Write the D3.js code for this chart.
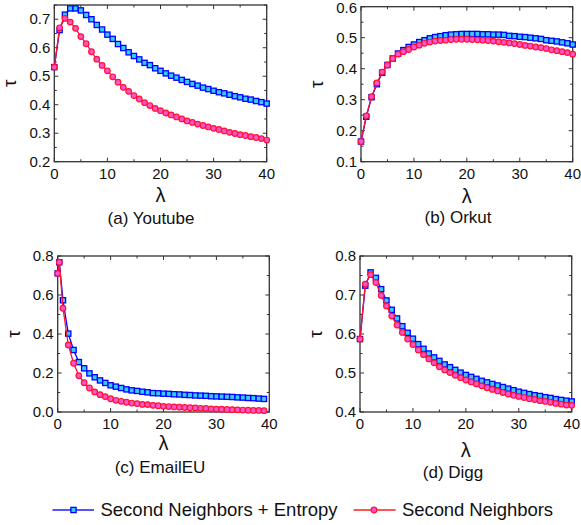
<!DOCTYPE html>
<html><head><meta charset="utf-8">
<script src="https://cdn.jsdelivr.net/npm/d3@7"></script>
<style>
body{margin:0;background:#fff;}
svg text{font-family:"Liberation Sans",Arial,sans-serif;fill:#111;}
</style></head>
<body><svg id="c" width="581" height="525"></svg>
<script>
// λ values (integers 0..40)
const lambdaInt = [0,1,2,3,4,5,6,7,8,9,10,11,12,13,14,15,16,17,18,19,20,21,22,23,24,25,26,27,28,29,30,31,32,33,34,35,36,37,38,39,40];
// EmailEU has an extra early sample
const lambdaEmail = [0,0.3,1,2,3,4,5,6,7,8,9,10,11,12,13,14,15,16,17,18,19,20,21,22,23,24,25,26,27,28,29,30,31,32,33,34,35,36,37,38,39,40];

const youtubeEntropy = [0.532,0.662,0.716,0.738,0.738,0.731,0.715,0.700,0.680,0.664,0.646,0.631,0.613,0.599,0.584,0.571,0.559,0.547,0.539,0.528,0.519,0.510,0.502,0.495,0.487,0.480,0.473,0.467,0.460,0.455,0.449,0.444,0.440,0.435,0.430,0.426,0.421,0.418,0.413,0.409,0.404];
const youtubeSecond = [0.532,0.670,0.703,0.690,0.668,0.639,0.614,0.586,0.560,0.538,0.519,0.498,0.479,0.461,0.447,0.432,0.420,0.407,0.397,0.387,0.379,0.371,0.364,0.357,0.350,0.343,0.338,0.332,0.327,0.322,0.317,0.313,0.308,0.303,0.299,0.295,0.292,0.288,0.285,0.281,0.276];

const orkutEntropy = [0.165,0.245,0.308,0.350,0.387,0.412,0.433,0.449,0.460,0.470,0.478,0.486,0.492,0.498,0.502,0.505,0.508,0.510,0.511,0.512,0.512,0.512,0.512,0.511,0.511,0.510,0.510,0.509,0.506,0.505,0.503,0.502,0.500,0.498,0.496,0.492,0.490,0.488,0.485,0.482,0.478];
const orkutSecond = [0.165,0.248,0.310,0.354,0.389,0.412,0.433,0.447,0.455,0.462,0.470,0.476,0.482,0.486,0.489,0.491,0.492,0.494,0.495,0.495,0.495,0.494,0.493,0.492,0.491,0.489,0.487,0.485,0.483,0.481,0.478,0.475,0.473,0.470,0.468,0.465,0.461,0.458,0.455,0.452,0.447];

const emailEntropy = [0.711,0.768,0.573,0.402,0.318,0.256,0.224,0.198,0.178,0.162,0.149,0.137,0.130,0.123,0.116,0.111,0.108,0.104,0.101,0.097,0.096,0.094,0.093,0.091,0.090,0.088,0.087,0.085,0.084,0.083,0.081,0.080,0.079,0.078,0.077,0.075,0.074,0.072,0.071,0.069,0.067];
const emailSecond = [0.711,0.768,0.532,0.344,0.250,0.186,0.150,0.123,0.103,0.089,0.079,0.068,0.060,0.055,0.050,0.046,0.043,0.039,0.038,0.034,0.032,0.029,0.028,0.026,0.025,0.023,0.022,0.021,0.019,0.018,0.016,0.015,0.014,0.013,0.012,0.011,0.010,0.009,0.008,0.008,0.007];

const diggEntropy = [0.587,0.724,0.758,0.744,0.715,0.686,0.662,0.640,0.620,0.603,0.588,0.574,0.562,0.550,0.540,0.531,0.522,0.515,0.508,0.501,0.495,0.490,0.485,0.480,0.476,0.472,0.468,0.464,0.460,0.456,0.452,0.449,0.446,0.443,0.441,0.438,0.436,0.433,0.431,0.429,0.427];
const diggSecond = [0.587,0.728,0.752,0.732,0.699,0.672,0.646,0.623,0.604,0.587,0.573,0.559,0.547,0.536,0.526,0.516,0.508,0.501,0.494,0.488,0.482,0.477,0.472,0.467,0.462,0.458,0.454,0.450,0.446,0.443,0.440,0.437,0.434,0.432,0.429,0.427,0.425,0.422,0.420,0.418,0.417];

const xTicks = [0,10,20,30,40];
const panelTitles = ["(a) Youtube","(b) Orkut","(c) EmailEU","(d) Digg"];
const legendLabels = ["Second Neighbors + Entropy","Second Neighbors"];

const panels = [
  {title:panelTitles[0], xs:lambdaInt, a:youtubeEntropy, b:youtubeSecond, yd:[0.2,0.75], yt:[0.2,0.3,0.4,0.5,0.6,0.7], xr:[54.3,266.7], yr:[161.7,5], lx:195, tx:151, ty:218},
  {title:panelTitles[1], xs:lambdaInt, a:orkutEntropy, b:orkutSecond, yd:[0.1,0.6], yt:[0.1,0.2,0.3,0.4,0.5,0.6], xr:[361,572.7], yr:[161.7,6.7], lx:196, tx:458, ty:217},
  {title:panelTitles[2], xs:lambdaEmail, a:emailEntropy, b:emailSecond, yd:[0,0.8], yt:[0,0.2,0.4,0.6,0.8], xr:[57.7,269.3], yr:[412,256], lx:443, tx:160, ty:467},
  {title:panelTitles[3], xs:lambdaInt, a:diggEntropy, b:diggSecond, yd:[0.4,0.8], yt:[0.4,0.5,0.6,0.7,0.8], xr:[360,571.7], yr:[412,256], lx:450, tx:453, ty:472}
];

const blue="#0000ff", cyan="#33ccff", red="#ff1133", pink="#ff55cc";
const svg = d3.select("#c");

function squareSym(g, x, y){
  g.append("rect").attr("x",x-2.6).attr("y",y-2.6).attr("width",5.2).attr("height",5.2)
   .attr("fill",cyan).attr("stroke",blue).attr("stroke-width",1.3);
}
function circleSym(g, x, y){
  g.append("circle").attr("cx",x).attr("cy",y).attr("r",2.8)
   .attr("fill",pink).attr("stroke",red).attr("stroke-width",1.2);
}

panels.forEach(p=>{
  const x = d3.scaleLinear().domain([0,40]).range(p.xr);
  const y = d3.scaleLinear().domain(p.yd).range(p.yr);
  const g = svg.append("g");
  const [x0,x1]=p.xr, [y0,y1]=p.yr;
  const axc="#333";
  g.append("rect").attr("x",x0).attr("y",y1).attr("width",x1-x0).attr("height",y0-y1)
   .attr("fill","none").attr("stroke",axc).attr("stroke-width",1.3);
  d3.range(0,41,5).forEach(v=>{
    const len = v%10===0?4:2.5;
    g.append("line").attr("x1",x(v)).attr("x2",x(v)).attr("y1",y0).attr("y2",y0-len).attr("stroke",axc);
    g.append("line").attr("x1",x(v)).attr("x2",x(v)).attr("y1",y1).attr("y2",y1+len).attr("stroke",axc);
  });
  const step = p.yt[1]-p.yt[0];
  const yMinor = d3.range(0, Math.round((p.yd[1]-p.yd[0])/(step/2))+1).map(i=>p.yd[0]+i*step/2);
  yMinor.forEach(v=>{
    const major = p.yt.some(t=>Math.abs(t-v)<1e-6);
    const len = major?4:2.5;
    g.append("line").attr("y1",y(v)).attr("y2",y(v)).attr("x1",x0).attr("x2",x0+len).attr("stroke",axc);
    g.append("line").attr("y1",y(v)).attr("y2",y(v)).attr("x1",x1).attr("x2",x1-len).attr("stroke",axc);
  });
  xTicks.forEach(v=>{
    g.append("text").attr("x",x(v)).attr("y",y0+17).attr("text-anchor","middle")
     .attr("font-size",15).text(v);
  });
  p.yt.forEach(v=>{
    g.append("text").attr("x",x0-4).attr("y",Math.max(y(v)+5,12.5)).attr("text-anchor","end")
     .attr("font-size",15).text(v.toFixed(1));
  });
  g.append("text").attr("x",(x0+x1)/2).attr("y",p.lx+7).attr("text-anchor","middle")
   .attr("font-size",20).text("λ");
  const tyc=(y0+y1)/2;
  g.append("text").attr("transform",`translate(${x0-38},${tyc}) rotate(-90)`).attr("text-anchor","middle")
   .attr("font-size",19).text("τ");
  g.append("text").attr("x",p.tx).attr("y",p.ty+6).attr("text-anchor","middle")
   .attr("font-size",17).text(p.title);

  const line = d3.line().x((d,i)=>x(p.xs[i])).y(d=>y(d));
  g.append("path").datum(p.a).attr("d",line).attr("fill","none").attr("stroke",blue).attr("stroke-width",1.3);
  const gm1=g.append("g");
  p.a.forEach((d,i)=>squareSym(gm1,x(p.xs[i]),y(d)));
  g.append("path").datum(p.b).attr("d",line).attr("fill","none").attr("stroke",red).attr("stroke-width",1.3);
  const gm2=g.append("g");
  p.b.forEach((d,i)=>circleSym(gm2,x(p.xs[i]),y(d)));
});

// legend
const lg = svg.append("g");
const ly = 510;
lg.append("line").attr("x1",52.5).attr("x2",94).attr("y1",ly).attr("y2",ly).attr("stroke","#5555ff").attr("stroke-width",2);
squareSym(lg,73.5,ly);
lg.append("text").attr("x",100.5).attr("y",ly+6).attr("font-size",18.5).attr("textLength",237).text(legendLabels[0]);
lg.append("line").attr("x1",353.6).attr("x2",395.6).attr("y1",ly).attr("y2",ly).attr("stroke","#ff5555").attr("stroke-width",2);
circleSym(lg,374,ly);
lg.append("text").attr("x",402).attr("y",ly+6).attr("font-size",18.5).attr("textLength",151).text(legendLabels[1]);
</script></body></html>
